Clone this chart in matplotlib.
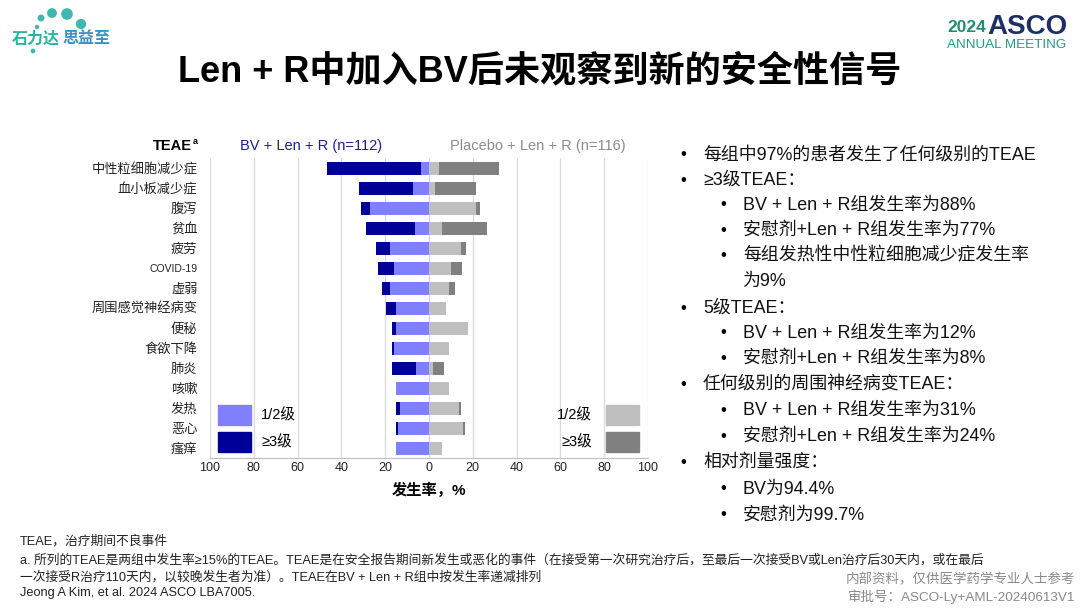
import matplotlib.pyplot as plt
import numpy as np
from matplotlib.patches import Rectangle

plt.rcParams['font.family'] = ['Liberation Sans', 'Noto Sans CJK SC', 'DejaVu Sans']

# 数据：各TEAE发生率（%）
teae = ['中性粒细胞减少症', '血小板减少症', '腹泻', '贫血', '疲劳', 'COVID-19', '虚弱',
        '周围感觉神经病变', '便秘', '食欲下降', '肺炎', '咳嗽', '发热', '恶心', '瘙痒']
bv_g12 = [3.6, 7.2, 26.8, 6.3, 17.8, 16.0, 17.7, 15.2, 15.2, 16.0, 6.1, 15.1, 13.4, 14.2, 15.1]
bv_g3 = [42.8, 24.9, 4.4, 22.3, 6.3, 7.1, 3.8, 4.6, 1.7, 0.8, 10.6, 0.0, 1.8, 0.9, 0.0]
pl_g12 = [4.4, 2.6, 21.5, 6.1, 14.5, 10.2, 9.3, 7.6, 18.0, 9.3, 1.8, 9.3, 13.7, 15.4, 5.9]
pl_g3 = [27.4, 18.9, 1.6, 20.5, 2.5, 5.0, 2.6, 0.0, 0.0, 0.0, 5.0, 0.0, 0.8, 0.9, 0.0]
xticks = [-100, -80, -60, -40, -20, 0, 20, 40, 60, 80, 100]
xticklabels = ['100', '80', '60', '40', '20', '0', '20', '40', '60', '80', '100']

bullets = [
    (0, '每组中97%的患者发生了任何级别的TEAE'),
    (0, '≥3级TEAE：'),
    (1, 'BV + Len + R组发生率为88%'),
    (1, '安慰剂+Len + R组发生率为77%'),
    (1, '每组发热性中性粒细胞减少症发生率'),
    (2, '为9%'),
    (0, '5级TEAE：'),
    (1, 'BV + Len + R组发生率为12%'),
    (1, '安慰剂+Len + R组发生率为8%'),
    (0, '任何级别的周围神经病变TEAE：'),
    (1, 'BV + Len + R组发生率为31%'),
    (1, '安慰剂+Len + R组发生率为24%'),
    (0, '相对剂量强度：'),
    (1, 'BV为94.4%'),
    (1, '安慰剂为99.7%'),
]
bullet_y = [155, 180, 205, 230, 256, 281, 308, 333, 358, 384, 410, 436, 462, 489, 515]

BV_LIGHT, BV_DARK = '#8080ff', '#000099'
PL_LIGHT, PL_DARK = '#bfbfbf', '#808080'

W, H = 1080, 609
fig = plt.figure(figsize=(W / 100, H / 100), dpi=100)
fig.patch.set_facecolor('white')


def px(x, y):
    return x / W, 1 - y / H


# 图表区
ax = fig.add_axes([210 / W, 1 - 458 / H, 438 / W, 300 / H])
y = np.arange(len(teae))
ax.barh(y, -np.array(bv_g12), height=0.65, color=BV_LIGHT, zorder=3)
ax.barh(y, -np.array(bv_g3), left=-np.array(bv_g12), height=0.65, color=BV_DARK, zorder=3)
ax.barh(y, pl_g12, height=0.65, color=PL_LIGHT, zorder=3)
ax.barh(y, pl_g3, left=pl_g12, height=0.65, color=PL_DARK, zorder=3)
ax.set_xlim(-100, 100)
ax.set_ylim(len(teae) - 0.5, -0.5)
ax.set_xticks(xticks)
ax.set_xticklabels(xticklabels, fontsize=9, color='#222222')
ax.set_yticks(y)
ax.set_yticklabels(teae, fontsize=9.5, color='#222222')
for lab in ax.get_yticklabels():
    if lab.get_text() == 'COVID-19':
        lab.set_fontsize(7.5)
ax.tick_params(axis='both', length=0)
ax.tick_params(axis='y', pad=9)
ax.tick_params(axis='x', pad=3)
ax.grid(axis='x', color='#d9d9d9', lw=0.9, zorder=0)
for s in ['top', 'left', 'right']:
    ax.spines[s].set_visible(False)
ax.spines['bottom'].set_color('#bfbfbf')
ax.set_xlabel('发生率，%', fontsize=11, fontweight='bold', labelpad=6)

# 图例框
for (x0, c) in [(218, BV_LIGHT), (606, PL_LIGHT)]:
    fig.add_artist(Rectangle(px(x0, 425), 33 / W, 20 / H, color=c, transform=fig.transFigure))
for (x0, c) in [(218, BV_DARK), (606, PL_DARK)]:
    fig.add_artist(Rectangle(px(x0, 452), 33 / W, 20 / H, color=c, transform=fig.transFigure))
fig.text(*px(261, 415), '1/2级', fontsize=10.5, va='center', ha='left')
fig.text(*px(261, 442), '≥3级', fontsize=10.5, va='center', ha='left')
fig.text(*px(592, 415), '1/2级', fontsize=10.5, va='center', ha='right')
fig.text(*px(592, 442), '≥3级', fontsize=10.5, va='center', ha='right')

# 列标题
fig.text(*px(192, 146), 'TEAE', fontsize=10.5, fontweight='bold', va='center', ha='right')
fig.text(*px(193, 142), 'a', fontsize=6.5, fontweight='bold', va='center', ha='left')
fig.text(*px(311, 146), 'BV + Len + R (n=112)', fontsize=10.5, color='#1c1ca0', va='center', ha='center')
fig.text(*px(538, 146), 'Placebo + Len + R (n=116)', fontsize=10.5, color='#8c8c8c', va='center', ha='center')

# 标题
fig.text(*px(540, 72), 'Len + R中加入BV后未观察到新的安全性信号', fontsize=26, fontweight='bold',
         va='center', ha='center')

# 右侧要点
for (lvl, txt), yy in zip(bullets, bullet_y):
    if lvl == 0:
        fig.text(*px(680, yy), '•', fontsize=12, va='center', ha='left')
        fig.text(*px(703, yy), txt, fontsize=12.9, va='center', ha='left', color='#111111')
    elif lvl == 1:
        fig.text(*px(720, yy), '•', fontsize=12, va='center', ha='left')
        fig.text(*px(743, yy), txt, fontsize=12.9, va='center', ha='left', color='#111111')
    else:
        fig.text(*px(743, yy), txt, fontsize=12.9, va='center', ha='left', color='#111111')

# 脚注
foot = ['TEAE，治疗期间不良事件',
        'a. 所列的TEAE是两组中发生率≥15%的TEAE。TEAE是在安全报告期间新发生或恶化的事件（在接受第一次研究治疗后，至最后一次接受BV或Len治疗后30天内，或在最后',
        '一次接受R治疗110天内，以较晚发生者为准）。TEAE在BV + Len + R组中按发生率递减排列',
        'Jeong A Kim, et al. 2024 ASCO LBA7005.']
for txt, yy in zip(foot, [541, 560, 577, 593]):
    fig.text(*px(20, yy), txt, fontsize=9.2, va='center', ha='left', color='#222222')
fig.text(*px(1075, 580), '内部资料，仅供医学药学专业人士参考', fontsize=9.7, va='center', ha='right', color='#8a8a8a')
fig.text(*px(1075, 597), '审批号：ASCO-Ly+AML-20240613V1', fontsize=9.7, va='center', ha='right', color='#8a8a8a')

# 左上角标志
dots_x = [37, 41, 52, 67, 81, 33]
dots_y = [27, 18, 13, 14, 24, 51]
dots_s = [10, 25, 50, 70, 55, 12]
lax = fig.add_axes([0, 0, 1, 1], zorder=-1)
lax.set_xlim(0, W)
lax.set_ylim(H, 0)
lax.axis('off')
lax.scatter(dots_x, dots_y, s=dots_s, color='#3fb8b0', linewidths=0)
fig.text(*px(12, 39), '石力达', fontsize=11.5, fontweight='bold', style='italic', color='#2bb3a3',
         va='center', ha='left')
fig.text(*px(62, 39), '思益至', fontsize=11.5, fontweight='bold', style='italic', color='#3a8fc9',
         va='center', ha='left')

# 右上角 ASCO
fig.text(*px(947, 28), '2024', fontsize=12.5, fontweight='bold', color='#1f8f6f', va='center', ha='left')
fig.text(*px(987, 27), 'ASCO', fontsize=20, fontweight='bold', color='#1d2f63', va='center', ha='left')
fig.text(*px(947, 45), 'ANNUAL MEETING', fontsize=9.7, color='#1f9f7f', va='center', ha='left')

fig.savefig('out.png', dpi=100, facecolor='white')
